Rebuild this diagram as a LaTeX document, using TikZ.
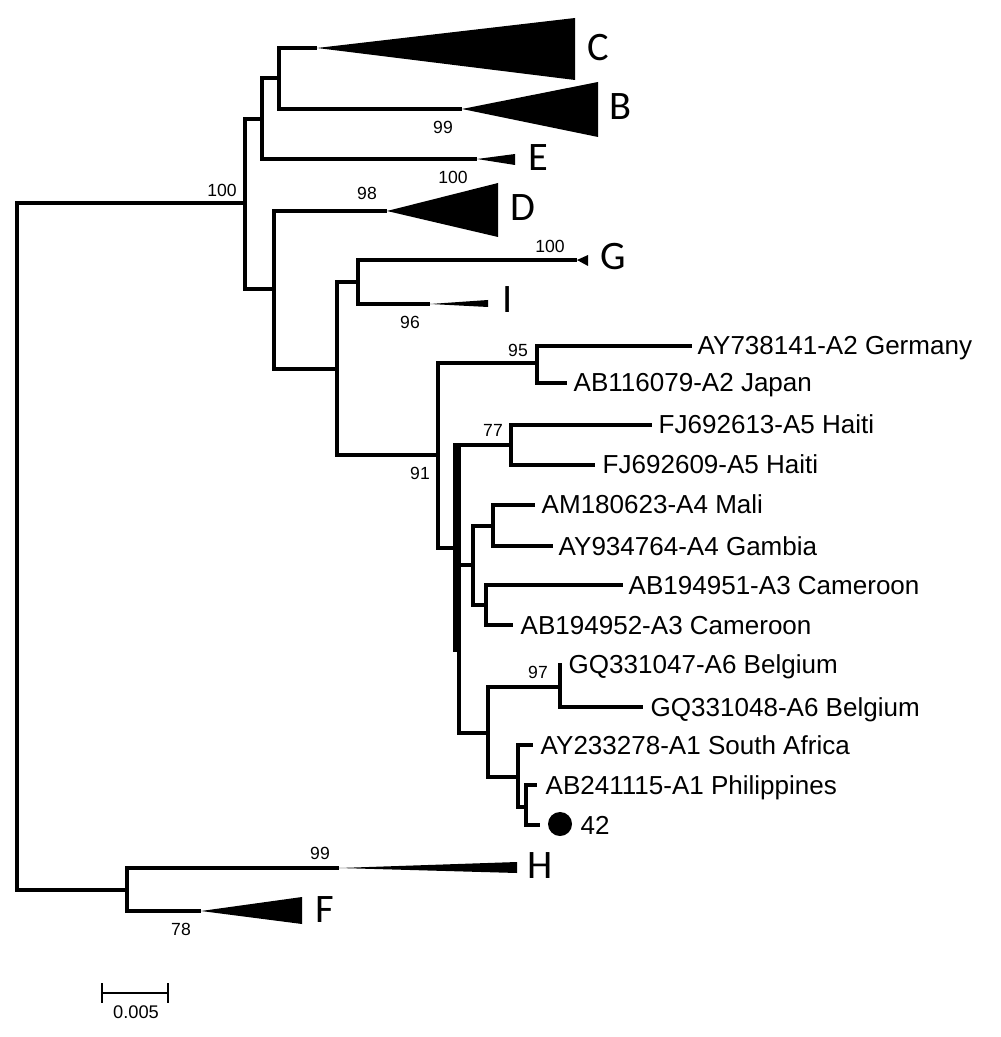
\documentclass[tikz,border=0pt]{standalone}
\usepackage{fontspec}
\setmainfont{Liberation Sans}
\newfontfamily\cladefont{Carlito}
\begin{document}
\begin{tikzpicture}[x=0.01cm,y=-0.01cm,
  br/.style={line width=1.15pt, line join=miter},
  tax/.style={font=\fontsize{7.4}{9}\selectfont, anchor=base west, inner sep=0pt},
  sup/.style={font=\fontsize{5}{6}\selectfont, inner sep=0pt},
  clade/.style={font=\cladefont\fontsize{11.5}{13}\selectfont, inner sep=0pt},
  tri/.style={fill=black},
  dot/.style={circle, fill=black, inner sep=0pt, minimum size=0.24cm},
  sbar/.style={line width=0.6pt}]
\useasboundingbox (0,0) rectangle (1000,1037);
% internal nodes and tips
\coordinate (R) at (17,546);
\coordinate (N1) at (245,203);
\coordinate (Na) at (262,119);
\coordinate (Nb) at (279,78);
\coordinate (tC) at (317,48);
\coordinate (tB) at (462,109);
\coordinate (tE) at (477,159);
\coordinate (Nd) at (274,289);
\coordinate (tD) at (387,211);
\coordinate (Ne) at (337,369);
\coordinate (Nf) at (358,282);
\coordinate (tG) at (577,260);
\coordinate (tI) at (430,304);
\coordinate (Ng) at (438,455);
\coordinate (Nh) at (537,363);
\coordinate (t1) at (692,346);
\coordinate (t2) at (567,383);
\coordinate (Ni) at (455,548);
\coordinate (N77) at (511,445);
\coordinate (t3) at (652,425);
\coordinate (t4) at (595,465);
\coordinate (Nj) at (459,650);
\coordinate (Nl) at (473,565);
\coordinate (Nn) at (493,526);
\coordinate (t5) at (535,505);
\coordinate (t6) at (553,546);
\coordinate (No) at (486,605);
\coordinate (t7) at (623,585);
\coordinate (t8) at (513,625);
\coordinate (Nm) at (488,733);
\coordinate (N97) at (560,687);
\coordinate (t9) at (562,665);
\coordinate (t10) at (643,707);
\coordinate (Np) at (518,777);
\coordinate (t11) at (533,745);
\coordinate (Nq) at (526,807);
\coordinate (t12) at (537,785);
\coordinate (t13) at (540,825);
\coordinate (Nr) at (127,890);
\coordinate (tH) at (339,868);
\coordinate (tF) at (201,911);
% branches
\draw[br] (R) |- (N1);  \draw[br] (R) |- (Nr);
\draw[br] (N1) |- (Na); \draw[br] (N1) |- (Nd);
\draw[br] (Na) |- (Nb); \draw[br] (Na) |- (tE);
\draw[br] (Nb) |- (tC); \draw[br] (Nb) |- (tB);
\draw[br] (Nd) |- (tD); \draw[br] (Nd) |- (Ne);
\draw[br] (Ne) |- (Nf); \draw[br] (Ne) |- (Ng);
\draw[br] (Nf) |- (tG); \draw[br] (Nf) |- (tI);
\draw[br] (Ng) |- (Nh); \draw[br] (Ng) |- (Ni);
\draw[br] (Nh) |- (t1); \draw[br] (Nh) |- (t2);
\draw[br] (Ni) |- (N77); \draw[br] (Ni) |- (Nj);
\draw[br] (Nj) -- (Nj |- N77);
\draw[br] (N77) |- (t3); \draw[br] (N77) |- (t4);
\draw[br] (Nj) |- (Nl); \draw[br] (Nj) |- (Nm);
\draw[br] (Nl) |- (Nn); \draw[br] (Nl) |- (No);
\draw[br] (Nn) |- (t5); \draw[br] (Nn) |- (t6);
\draw[br] (No) |- (t7); \draw[br] (No) |- (t8);
\draw[br] (Nm) |- (N97); \draw[br] (Nm) |- (Np);
\draw[br] (N97) |- (t9); \draw[br] (N97) |- (t10);
\draw[br] (Np) |- (t11); \draw[br] (Np) |- (Nq);
\draw[br] (Nq) |- (t12); \draw[br] (Nq) |- (t13);
\draw[br] (Nr) |- (tH); \draw[br] (Nr) |- (tF);
% collapsed clades
\fill[tri] (tC) -- (575,18) -- (575,80) -- cycle;
\fill[tri] (tB) -- (598,82) -- (598,137) -- cycle;
\fill[tri] (tE) -- (515,154) -- (515,165) -- cycle;
\fill[tri] (tD) -- (498,183) -- (498,237) -- cycle;
\fill[tri] (tG) -- (588,255) -- (588,266) -- cycle;
\fill[tri] (tI) -- (488,300) -- (488,307) -- cycle;
\fill[tri] (tH) -- (517,862) -- (517,873) -- cycle;
\fill[tri] (tF) -- (302,897) -- (302,924) -- cycle;
% clade labels
\node[clade] (lC) at (598,48) {C};
\node[clade] (lB) at (620,107) {B};
\node[clade] (lE) at (538,158) {E};
\node[clade] (lD) at (523,208) {D};
\node[clade] (lG) at (613,257) {G};
\node[clade] (lI) at (508,300) {I};
\node[clade] (lH) at (540,866) {H};
\node[clade] (lF) at (325,910) {F};
% taxon labels
\node[tax] (L1) at (697,355) {AY738141-A2 Germany};
\node[tax] (L2) at (573,392) {AB116079-A2 Japan};
\node[tax] (L3) at (658,434) {FJ692613-A5 Haiti};
\node[tax] (L4) at (602,474) {FJ692609-A5 Haiti};
\node[tax] (L5) at (541,514) {AM180623-A4 Mali};
\node[tax] (L6) at (558,555) {AY934764-A4 Gambia};
\node[tax] (L7) at (628,594) {AB194951-A3 Cameroon};
\node[tax] (L8) at (520,634) {AB194952-A3 Cameroon};
\node[tax] (L9) at (568,673) {GQ331047-A6 Belgium};
\node[tax] (L10) at (650,716) {GQ331048-A6 Belgium};
\node[tax] (L11) at (540,754) {AY233278-A1 South Africa};
\node[tax] (L12) at (545,794) {AB241115-A1 Philippines};
\node[dot] (c42) at (560,824) {};
\node[tax] (L13) at (580,834) {42};
% support values
\node[sup] (s1) at (222,190) {100};
\node[sup] (s2) at (443,127) {99};
\node[sup] (s3) at (453,177) {100};
\node[sup] (s4) at (367,193) {98};
\node[sup] (s5) at (550,246) {100};
\node[sup] (s6) at (410,322) {96};
\node[sup] (s7) at (420,473) {91};
\node[sup] (s8) at (518,350) {95};
\node[sup] (s9) at (493,430) {77};
\node[sup] (s10) at (538,672) {97};
\node[sup] (s11) at (320,853) {99};
\node[sup] (s12) at (181,929) {78};
% scale bar
\coordinate (b1) at (102,993);
\coordinate (b2) at (168,993);
\draw[sbar] (b1) -- (b2);
\draw[sbar] ([yshift=0.1cm]b1) -- ([yshift=-0.1cm]b1);
\draw[sbar] ([yshift=0.1cm]b2) -- ([yshift=-0.1cm]b2);
\node[font=\fontsize{5.2}{6}\selectfont, inner sep=0pt] (sl) at (136,1012) {0.005};
\end{tikzpicture}
\end{document}
